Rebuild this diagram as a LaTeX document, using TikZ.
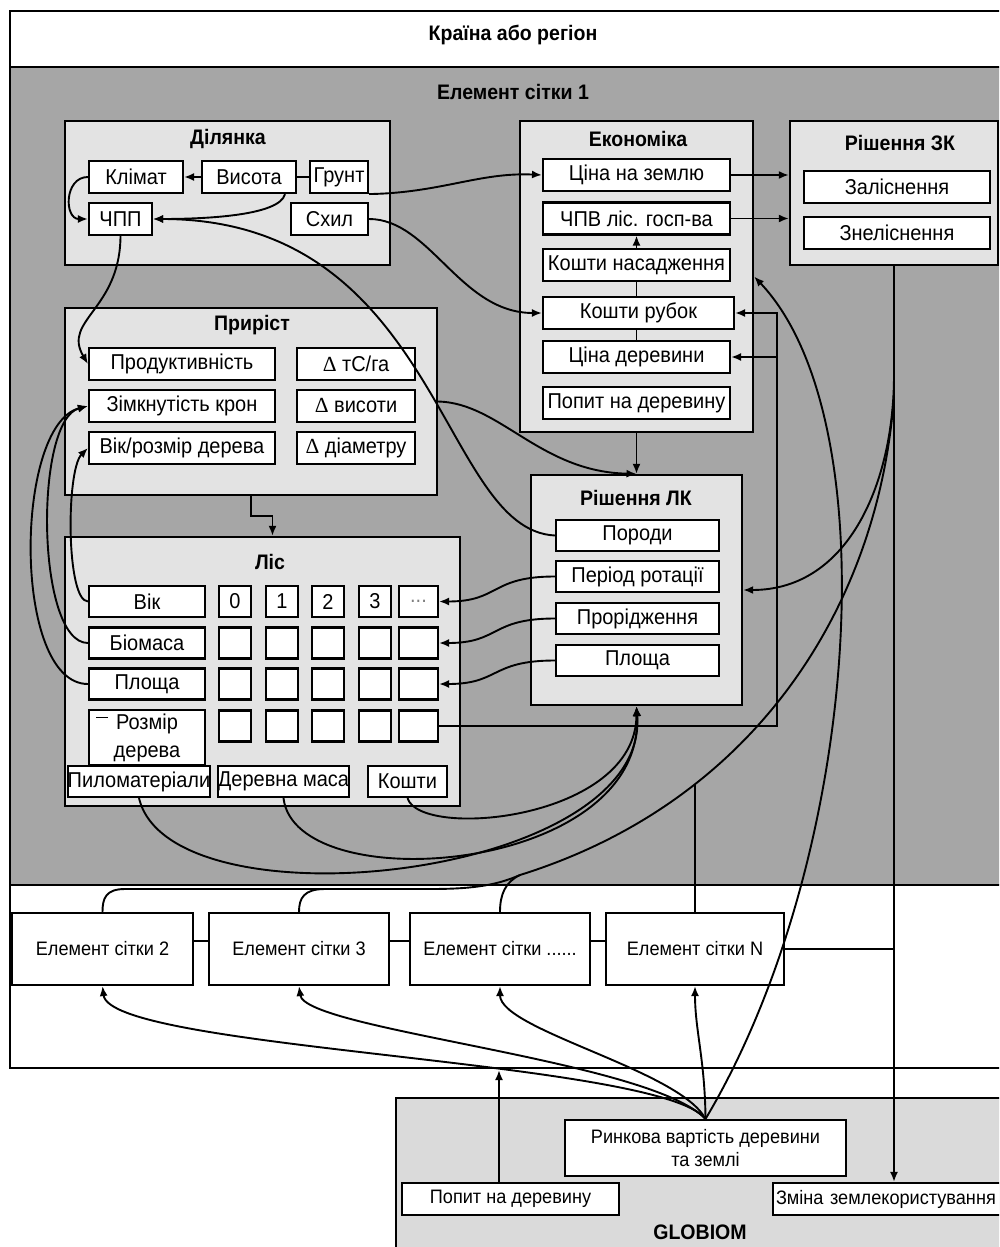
\documentclass[tikz,border=0pt]{standalone}
\usepackage{fontspec}
\setmainfont{Liberation Sans}[FakeStretch=0.93]
\newfontfamily\serifd{Liberation Serif}
\usetikzlibrary{arrows.meta,calc}
\definecolor{bggrey}{HTML}{A6A6A6}
\definecolor{grpfill}{HTML}{E3E3E3}
\definecolor{globfill}{HTML}{DADADA}
\newcommand\fsA{\fontsize{21.5}{24}\selectfont}
\newcommand\fsT{\fontsize{21}{24}\selectfont}
\newcommand\fsB{\fontsize{19.5}{22}\selectfont}
\newcommand\fsC{\fontsize{19.5}{23}\selectfont}
\begin{document}
\begin{tikzpicture}[x=1pt,y=-1pt,
  bx/.style={draw, line width=2.1pt, fill=white, inner sep=0pt, font=\fsA},
  grp/.style={draw, line width=2.3pt, fill=grpfill, inner sep=0pt},
  ttl/.style={font=\bfseries\fsT, inner sep=0pt},
  conn/.style={line width=1.9pt},
  arr/.style={conn, -{Latex[length=10pt,width=8pt]}}]
\useasboundingbox (0,0) rectangle (999,1247);
\clip (0,0) rectangle (999,1247);
\fill[white] (0,0) rectangle (999,1247);
\fill[bggrey] (10,67) rectangle (1010,885);
\draw[line width=2.3pt] (10,11) rectangle (1010,1068);
\draw[line width=2.3pt] (10,67) -- (1010,67);
\draw[line width=2.3pt] (10,885) -- (1010,885);
\node[ttl] (country) at (513,35) {Країна або регіон};
\node[ttl] (cell1) at (513,92) {Елемент сітки 1};

% Dilyanka
\node[grp, minimum width=325pt, minimum height=144pt] (dil) at (227.5,193) {};
\node[ttl] (dilt) at (228,139) {Ділянка};
\node[bx, minimum width=94pt, minimum height=32pt] (klimat) at (136,177) {Клімат};
\node[bx, minimum width=94pt, minimum height=32pt] (vysota) at (249,177) {Висота};
\node[bx, minimum width=58pt, minimum height=32pt] (grunt) at (339,177) {Грунт};
\node[bx, minimum width=63pt, minimum height=32pt] (chpp) at (120.5,219) {ЧПП};
\node[bx, minimum width=77pt, minimum height=32pt] (skhyl) at (329.5,219) {Схил};

% Ekonomika
\node[grp, minimum width=233pt, minimum height=311pt] (ekon) at (636.5,276.5) {};
\node[ttl] (ekont) at (638,139) {Економіка};
\node[bx, minimum width=187pt, minimum height=32pt] (czem) at (636.5,175) {Ціна на землю};
\node[bx, minimum width=187pt, minimum height=32pt] (chpv) at (636.5,218.5) {ЧПВ ліс. госп-ва};
\node[bx, minimum width=187pt, minimum height=32pt] (kn) at (636.5,265) {Кошти насадження};
\node[bx, minimum width=191pt, minimum height=32pt] (kr) at (638.5,313) {Кошти рубок};
\node[bx, minimum width=187pt, minimum height=32pt] (cd) at (636.5,357) {Ціна деревини};
\node[bx, minimum width=187pt, minimum height=32pt] (pd) at (636.5,403) {Попит на деревину};

% Rishennya ZK
\node[grp, minimum width=208pt, minimum height=144pt] (rzk) at (894,193) {};
\node[ttl] (rzkt) at (900,143) {Рішення ЗК};
\node[bx, minimum width=186pt, minimum height=32pt] (zal) at (897,187) {Заліснення};
\node[bx, minimum width=186pt, minimum height=32pt] (znel) at (897,233) {Знеліснення};

% Pryrist
\node[grp, minimum width=372pt, minimum height=187pt] (pryr) at (251,401.5) {};
\node[ttl] (pryrt) at (252,325) {Приріст};
\node[bx, minimum width=186pt, minimum height=32pt] (prod) at (182,364) {Продуктивність};
\node[bx, minimum width=186pt, minimum height=32pt] (zimk) at (182,406) {Зімкнутість крон};
\node[bx, minimum width=186pt, minimum height=32pt] (vik) at (182,448) {Вік/розмір дерева};
\node[bx, minimum width=118pt, minimum height=32pt] (dtc) at (356,364) {{\serifd Δ} тС/га};
\node[bx, minimum width=118pt, minimum height=32pt] (dvys) at (356,406) {{\serifd Δ} висоти};
\node[bx, minimum width=118pt, minimum height=32pt] (ddiam) at (356,448) {{\serifd Δ} діаметру};

% Lis
\node[grp, minimum width=395pt, minimum height=269pt] (lis) at (262.5,671.5) {};
\node[ttl] (list) at (270,562) {Ліс};
\node[bx, minimum width=116pt, minimum height=31pt] (lvik) at (147,601.5) {Вік};
\node[bx, minimum width=116pt, minimum height=31pt] (lbio) at (147,643) {Біомаса};
\node[bx, minimum width=116pt, minimum height=31pt] (lplo) at (147,684) {Площа};
\node[bx, minimum width=116pt, minimum height=55pt, align=center, font=\fontsize{21.5}{28}\selectfont] (lroz) at (147,737.5) {Розмір\\дерева};
\draw[line width=0.9pt] (96,717) -- (108,717);
\node[bx, minimum width=32pt, minimum height=31pt] (c11) at (235,601.5) {0};
\node[bx, minimum width=32pt, minimum height=31pt] (c12) at (282,601.5) {1};
\node[bx, minimum width=32pt, minimum height=31pt] (c13) at (328,601.5) {2};
\node[bx, minimum width=32pt, minimum height=31pt] (c14) at (375,601.5) {3};
\node[bx, minimum width=39pt, minimum height=31pt, text=gray] (c15) at (418.5,601.5) {...};
\foreach \r/\yy in {2/643,3/684,4/726}{
  \foreach \c/\xx/\ww in {1/235/32,2/282/32,3/328/32,4/375/32,5/418.5/39}{
    \node[bx, minimum width=\ww pt, minimum height=31pt] (c\r\c) at (\xx,\yy) {};
  }
}
\node[bx, minimum width=132pt, minimum height=31pt] (pylo) at (139,781.5) {Пиломатеріали};
\node[bx, minimum width=121pt, minimum height=31pt] (dmasa) at (283.5,781.5) {Деревна маса};
\node[bx, minimum width=79pt, minimum height=31pt] (kosh) at (407.5,781.5) {Кошти};

% Rishennya LK
\node[grp, minimum width=211pt, minimum height=230pt] (rlk) at (636.5,590) {};
\node[ttl] (rlkt) at (636,498) {Рішення ЛК};
\node[bx, minimum width=163pt, minimum height=31pt] (porody) at (637.5,535.5) {Породи};
\node[bx, minimum width=163pt, minimum height=31pt] (period) at (637.5,576.5) {Період ротації};
\node[bx, minimum width=163pt, minimum height=31pt] (prorid) at (637.5,618.5) {Прорідження};
\node[bx, minimum width=163pt, minimum height=31pt] (lkplo) at (637.5,660.5) {Площа};

% grid cells
\node[bx, font=\fsB, minimum width=181pt, minimum height=72pt] (e2) at (102.5,949) {Елемент сітки 2};
\node[bx, font=\fsB, minimum width=180pt, minimum height=72pt] (e3) at (299,949) {Елемент сітки 3};
\node[bx, font=\fsB, minimum width=180pt, minimum height=72pt] (edots) at (500,949) {Елемент сітки ......};
\node[bx, font=\fsB, minimum width=178pt, minimum height=72pt] (en) at (695,949) {Елемент сітки N};

% GLOBIOM
\node[draw, line width=2.3pt, fill=globfill, minimum width=620pt, minimum height=170pt] (glob) at (706,1183) {};
\node[bx, font=\fsC, align=center, minimum width=281pt, minimum height=56pt] (rv) at (705.5,1148) {Ринкова вартість деревини\\та землі};
\node[bx, font=\fsB, minimum width=217pt, minimum height=32pt] (popg) at (510.5,1199) {Попит на деревину};
\node[bx, font=\fsB, minimum width=237pt, minimum height=32pt, text width=231pt, align=left] (zmina) at (891.5,1199) {Зміна землекористування};
\node[ttl] (globt) at (700,1232) {GLOBIOM};

% connectors in Dilyanka
\draw[arr] (vysota.west) -- (klimat.east);
\draw[conn] (grunt.west) -- (vysota.east);
\draw[arr] (klimat.west) .. controls (64,177) and (64,219) .. (chpp.west);
\draw[arr] ([xshift=36pt]vysota.south) .. controls (280,215) and (210,219) .. (chpp.east);
\draw[arr] (grunt.south east) .. controls (440,193) and (480,172) .. (czem.west);
\draw[arr] (skhyl.east) .. controls (430,219) and (460,313) .. (kr.west);
\draw[arr] (chpp.south) .. controls (120,310) and (62,320) .. (prod.west);
\draw[arr] (porody.west) .. controls (440,530) and (440,219) .. (chpp.east);

% Ekonomika internal
\draw[arr] (kn.north) -- (chpv.south);
\draw[conn] (kn.south) -- (kn.south |- kr.north);
\draw[conn] (cd.north) -- (cd.north |- kr.south);
\draw[arr] (czem.east) -- (czem.east -| rzk.west);
\draw[arr] (chpv.east) -- (chpv.east -| rzk.west);
\draw[arr] (ekon.south) -- (rlk.north);
\draw[arr] (pryr.east) .. controls (500,403) and (540,472) .. (rlk.north);
\draw[arr] (pryr.south) -- ++(0,20) -| ([xshift=10pt]lis.north);

% Lis -> Pryrist
\draw[arr] (lvik.west) .. controls (66,601) and (66,470) .. (vik.west);
\draw[arr] (lbio.west) .. controls (36,643) and (34,420) .. (zimk.west);
\draw[arr] (lplo.west) .. controls (12,684) and (14,425) .. (zimk.west);

% Rishennya LK -> Lis
\draw[arr] (period.west) .. controls (490,576.5) and (500,601.5) .. (c15.east);
\draw[arr] (prorid.west) .. controls (490,618.5) and (500,643) .. (c25.east);
\draw[arr] (lkplo.west) .. controls (490,660.5) and (500,684) .. (c35.east);

% Lis -> Ekonomika
\coordinate (vr1) at (777,313);
\coordinate (vr2) at (777,357);
\draw[arr] (c45.east) -| (vr1) -- (kr.east);
\draw[arr] (vr2) -- (cd.east);

% products -> Rishennya LK
\draw[arr] (pylo.south) .. controls (170,930) and (650,880) .. (rlk.south);
\draw[arr] (dmasa.south) .. controls (295,900) and (645,875) .. (rlk.south);
\draw[arr] (kosh.south) .. controls (420,840) and (636,820) .. (rlk.south);

% Rishennya ZK outputs
\draw[arr] (rzk.south) -- (rzk.south |- zmina.north);
\coordinate (rzk1) at (894,375);
\coordinate (rzk2) at (894,395);
\draw[arr] (rzk1) .. controls (894,480) and (850,590) .. (rlk.east);
\coordinate (j1) at (520,875);
\coordinate (j2) at (695,785);
\coordinate (j3) at (430,889);
\coordinate (j4) at (125,889);
\coordinate (j5) at (325,889);
\draw[conn] (rzk2) .. controls (880,600) and (760,800) .. (j1);
\draw[conn] (j2) -- (en.north);
\draw[conn] (j1) .. controls (495,886) and (470,889) .. (j3) -- (j4) .. controls (106,889) and (102.5,898) .. (e2.north);
\draw[conn] (j5) .. controls (304,889) and (299,898) .. (e3.north);
\draw[conn] (j1) .. controls (505,882) and (500,895) .. (edots.north);

% links between grid cells
\draw[conn] ([yshift=8pt]e2.east) -- ([yshift=8pt]e3.west);
\draw[conn] ([yshift=8pt]e3.east) -- ([yshift=8pt]edots.west);
\draw[conn] ([yshift=8pt]edots.east) -- ([yshift=8pt]en.west);
\draw[conn] (en.east) -- (en.east -| rzk.south);

% GLOBIOM links
\draw[arr] (rv.north) .. controls (660,1060) and (110,1050) .. (e2.south);
\draw[arr] (rv.north) .. controls (650,1060) and (305,1030) .. (e3.south);
\draw[arr] (rv.north) .. controls (680,1070) and (500,1030) .. (edots.south);
\draw[arr] (rv.north) .. controls (705,1060) and (695,1030) .. (en.south);
\draw[arr] (rv.north) .. controls (860,860) and (890,420) .. (ekon.east);
\coordinate (fb) at (499,1070);
\draw[arr] (popg.north -| fb) -- (fb);
\end{tikzpicture}
\end{document}
